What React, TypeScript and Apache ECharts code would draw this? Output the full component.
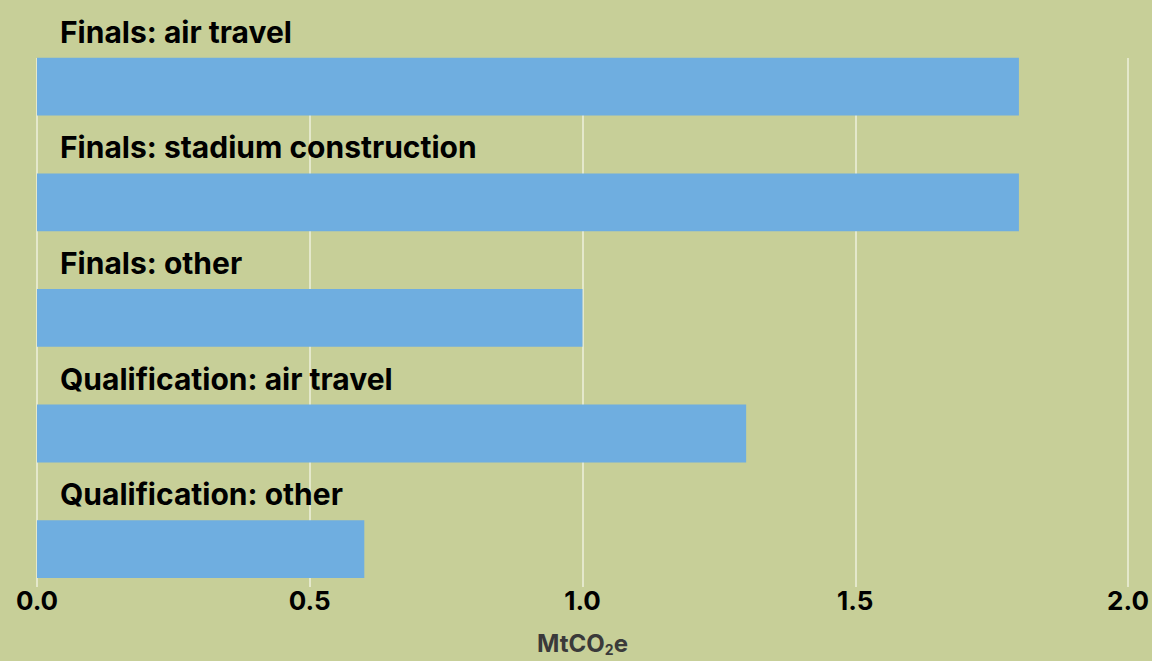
import React, { useEffect, useRef } from "react";
import * as echarts from "echarts";

const categories = [
  "Finals: air travel",
  "Finals: stadium construction",
  "Finals: other",
  "Qualification: air travel",
  "Qualification: other",
];
const values = [1.8, 1.8, 1.0, 1.3, 0.6];
const xTicks = { min: 0, max: 2, interval: 0.5 };

const FONT = "Inter, 'Noto Sans', sans-serif";

export default function App() {
  const ref = useRef<HTMLDivElement>(null);
  useEffect(() => {
    if (!ref.current) return;
    const chart = echarts.init(ref.current, undefined, { renderer: "svg" });
    chart.setOption({
      animation: false,
      backgroundColor: "#c7cf98",
      grid: [
        { left: 37, right: 24, top: 0, height: 587, containLabel: false },
        { left: 37, right: 24, top: 58, height: 529, containLabel: false },
      ],
      xAxis: [
        {
          type: "value",
          gridIndex: 0,
          min: xTicks.min,
          max: xTicks.max,
          interval: xTicks.interval,
          axisLine: { show: false },
          axisTick: { show: false },
          splitLine: { show: false },
          axisLabel: {
            formatter: (v: number) => v.toFixed(1),
            color: "#000",
            fontFamily: FONT,
            fontWeight: 700,
            fontSize: 26,
            margin: 9,
          },
          name: "MtCO{sub|2}e",
          nameLocation: "middle",
          nameGap: 52,
          nameTextStyle: {
            color: "#3a3a3a",
            fontFamily: FONT,
            fontWeight: 700,
            fontSize: 24,
            rich: {
              sub: {
                color: "#3a3a3a",
                fontFamily: FONT,
                fontWeight: 700,
                fontSize: 14,
                verticalAlign: "bottom",
                padding: [12, 0, 0, 0],
              },
            },
          },
        },
        {
          type: "value",
          gridIndex: 1,
          min: xTicks.min,
          max: xTicks.max,
          interval: xTicks.interval,
          axisLine: { show: false },
          axisTick: { show: false },
          axisLabel: { show: false },
          splitLine: { show: true, lineStyle: { color: "#eef0dc", width: 1.5 } },
        },
      ],
      yAxis: [
        {
          type: "category",
          gridIndex: 0,
          data: categories,
          inverse: true,
          axisLine: { show: false },
          axisTick: { show: false },
          axisLabel: { show: false },
          splitLine: { show: false },
        },
        {
          type: "value",
          gridIndex: 1,
          show: false,
        },
      ],
      series: [
        {
          type: "bar",
          xAxisIndex: 0,
          yAxisIndex: 0,
          data: values.map(() => 0),
          itemStyle: { color: "transparent" },
          barGap: "0%",
          barCategoryGap: "0%",
          silent: true,
        },
        {
          type: "bar",
          xAxisIndex: 0,
          yAxisIndex: 0,
          data: values,
          itemStyle: { color: "#6faee0" },
          barGap: "0%",
          barCategoryGap: "0%",
          z: 3,
          label: {
            show: true,
            formatter: (p: any) => categories[p.dataIndex],
            position: [23, -26],
            align: "left",
            verticalAlign: "middle",
            color: "#000",
            fontFamily: FONT,
            fontWeight: 700,
            fontSize: 30,
          },
        },
        {
          type: "scatter",
          xAxisIndex: 1,
          yAxisIndex: 1,
          data: [],
        },
      ],
    });
    return () => chart.dispose();
  }, []);
  return (
    <div
      ref={ref}
      style={{ position: "fixed", left: 0, top: 0, width: 1152, height: 661 }}
    />
  );
}
